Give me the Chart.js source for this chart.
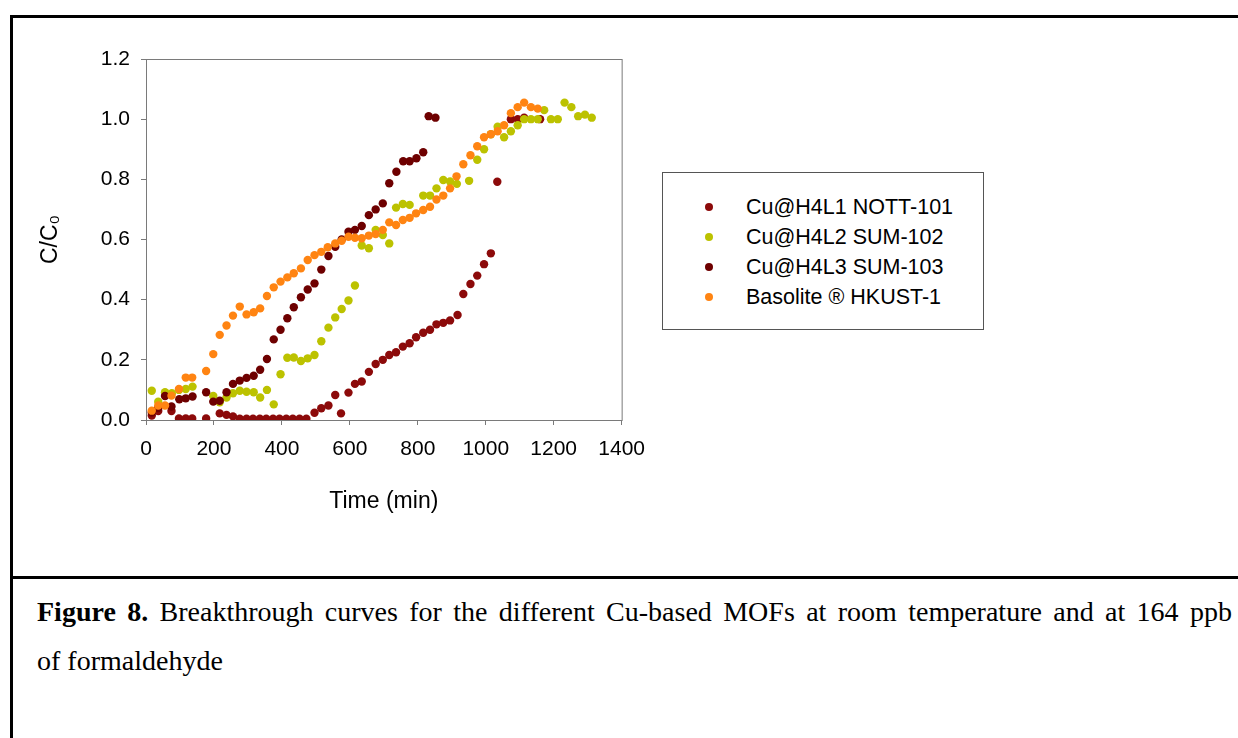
<!DOCTYPE html>
<html>
<head>
<meta charset="utf-8">
<script src="https://cdn.jsdelivr.net/npm/chart.js@4.4.0/dist/chart.umd.min.js"></script>
<style>
  body { margin: 0; background: #fff; width: 1238px; height: 738px; overflow: hidden; position: relative; font-family: "Liberation Sans", Arial, sans-serif; }
  #frame { position: absolute; left: 10px; top: 15px; width: 1300px; height: 800px; border-left: 3px solid #000; border-top: 3px solid #000; }
  #sep { position: absolute; left: 10px; top: 576px; width: 1300px; height: 3px; background: #000; }
  #chartBox { position: absolute; left: 20px; top: 30px; width: 637px; height: 510px; }
  #legend { position: absolute; left: 662px; top: 172px; width: 322px; height: 158px; border: 1px solid #555; box-sizing: border-box; }
  .row { position: absolute; left: 0; height: 30px; line-height: 30px; font-size: 21.5px; color: #000; white-space: nowrap; }
  .dot { position: absolute; left: 42px; top: 11px; width: 8px; height: 8px; border-radius: 50%; }
  .lbl { position: absolute; left: 83px; top: 0; }
  .caption { position: absolute; left: 37px; width: 1195px; font-family: "Liberation Serif", "Times New Roman", serif; font-size: 28px; line-height: 34px; color: #000; }
  #cap1 { top: 595px; text-align: justify; text-align-last: justify; }
  #cap2 { top: 644px; }
</style>
</head>
<body>
<div id="frame"></div>
<div id="sep"></div>
<div id="chartBox"><canvas id="chartBreak"></canvas></div>
<div id="legend"></div>
<div class="caption" id="cap1"><b>Figure 8.</b> Breakthrough curves for the different Cu-based MOFs at room temperature and at 164 ppb</div>
<div class="caption" id="cap2">of formaldehyde</div>

<script>
// axis ticks
const xTicks = [0, 200, 400, 600, 800, 1000, 1200, 1400];
const yTicks = [0.0, 0.2, 0.4, 0.6, 0.8, 1.0, 1.2];

const seriesNames = ["Cu@H4L1 NOTT-101", "Cu@H4L2 SUM-102", "Cu@H4L3 SUM-103", "Basolite \u00AE HKUST-1"];
const seriesColors = ["#8c0a0a", "#bcc200", "#6e0000", "#ff8412"];

// Cu@H4L1 NOTT-101
const nott101Time = [17, 36, 75, 97, 117, 136, 177, 217, 237, 256, 276, 296, 315, 335, 354, 374, 393, 413, 432, 452, 472,
  496, 516, 537, 557, 574, 596, 615, 635, 656, 676, 697, 716, 736, 756, 776, 795, 816, 836, 855, 875, 895, 917,
  934, 955, 975, 995, 1015, 1034, 1074, 1094, 1113, 1160];
const nott101Value = [0.015, 0.03, 0.03, 0.005, 0.005, 0.005, 0.005, 0.022, 0.017, 0.012, 0.004, 0.004, 0.004, 0.004, 0.004, 0.004, 0.004, 0.004, 0.004, 0.004, 0.004,
  0.024, 0.039, 0.048, 0.083, 0.022, 0.091, 0.12, 0.128, 0.16, 0.186, 0.2, 0.216, 0.225, 0.244, 0.255, 0.275, 0.29, 0.3, 0.318, 0.323, 0.331, 0.349,
  0.419, 0.452, 0.48, 0.518, 0.554, 0.792, 1.0, 1.0, 1.005, 1.0];

// Cu@H4L2 SUM-102
const sum102Time = [17, 36, 56, 76, 97, 117, 137, 198, 217, 237, 256, 276, 296, 317, 336, 356, 376, 396, 416, 435, 456, 476, 496,
  516, 537, 557, 576, 596, 615, 635, 656, 676, 697, 716, 736, 756, 776, 816, 836, 855, 875, 895, 915, 951,
  975, 995, 1015, 1035, 1054, 1074, 1094, 1113, 1133, 1153, 1172, 1192, 1212, 1232, 1252, 1272, 1292, 1312];
const sum102Value = [0.097, 0.061, 0.092, 0.089, 0.1, 0.103, 0.111, 0.08, 0.059, 0.075, 0.089, 0.097, 0.094, 0.092, 0.075, 0.1, 0.052, 0.152, 0.207, 0.208, 0.196, 0.205, 0.216,
  0.262, 0.307, 0.341, 0.369, 0.397, 0.447, 0.58, 0.571, 0.632, 0.615, 0.587, 0.706, 0.718, 0.715, 0.746, 0.746, 0.77, 0.798, 0.793, 0.785, 0.795,
  0.865, 0.9, 0.95, 0.975, 0.94, 0.96, 0.98, 1.0, 1.0, 1.0, 1.03, 1.0, 1.0, 1.055, 1.04, 1.01, 1.015, 1.005];

// Cu@H4L3 SUM-103
const sum103Time = [17, 36, 56, 75, 98, 117, 137, 177, 198, 217, 237, 256, 276, 296, 317, 336, 356, 376, 396, 416, 435, 456,
  476, 496, 516, 537, 557, 576, 596, 615, 635, 656, 676, 697, 716, 737, 757, 776, 796, 816, 832, 852];
const sum103Value = [0.025, 0.04, 0.08, 0.045, 0.069, 0.072, 0.078, 0.092, 0.061, 0.064, 0.092, 0.12, 0.131, 0.14, 0.147, 0.167, 0.203, 0.268, 0.3, 0.338, 0.375, 0.408,
  0.434, 0.454, 0.5, 0.545, 0.576, 0.6, 0.626, 0.632, 0.645, 0.681, 0.7, 0.72, 0.787, 0.825, 0.86, 0.86, 0.87, 0.89, 1.01, 1.005];

// Basolite HKUST-1
const hkustTime = [17, 36, 56, 75, 97, 117, 136, 177, 198, 217, 237, 256, 276, 296, 317, 336, 356, 376, 396, 416, 435, 456,
  476, 496, 516, 535, 557, 576, 596, 615, 635, 656, 676, 697, 716, 736, 756, 776, 795, 816, 836, 855, 875,
  895, 914, 934, 955, 975, 995, 1015, 1035, 1054, 1074, 1094, 1113, 1133, 1153];
const hkustValue = [0.031, 0.048, 0.048, 0.081, 0.103, 0.141, 0.141, 0.163, 0.219, 0.283, 0.314, 0.347, 0.377, 0.351, 0.358, 0.371, 0.412, 0.441, 0.46, 0.474, 0.488, 0.504,
  0.532, 0.548, 0.559, 0.574, 0.587, 0.596, 0.609, 0.606, 0.604, 0.613, 0.618, 0.632, 0.657, 0.648, 0.665, 0.672, 0.687, 0.698, 0.709, 0.733, 0.746,
  0.77, 0.81, 0.85, 0.88, 0.91, 0.94, 0.95, 0.96, 0.98, 1.02, 1.04, 1.055, 1.04, 1.035];

function toPoints(xs, ys) {
  return xs.map((x, i) => ({ x: x, y: ys[i] }));
}

const allSeries = [
  toPoints(nott101Time, nott101Value),
  toPoints(sum102Time, sum102Value),
  toPoints(sum103Time, sum103Value),
  toPoints(hkustTime, hkustValue),
];

// legend as plain html
const legendBox = document.getElementById("legend");
seriesNames.forEach((name, i) => {
  const row = document.createElement("div");
  row.className = "row";
  row.style.top = (19 + i * 30) + "px";
  row.innerHTML = '<span class="dot" style="background:' + seriesColors[i] + '"></span><span class="lbl">' + name + "</span>";
  legendBox.appendChild(row);
});

// box round the plot area
const plotFrame = {
  id: "plotFrame",
  beforeDatasetsDraw(chart) {
    const a = chart.chartArea;
    const ctx = chart.ctx;
    ctx.save();
    ctx.strokeStyle = "#7a7a7a";
    ctx.lineWidth = 1;
    ctx.strokeRect(a.left + 0.5, a.top + 0.5, a.right - a.left, a.bottom - a.top);
    ctx.restore();
  },
};

const datasets = allSeries.map((pts, i) => ({
  label: seriesNames[i],
  data: pts,
  backgroundColor: seriesColors[i],
  borderWidth: 0,
  pointRadius: 4.2,
  pointHoverRadius: 4.2,
  showLine: false,
  order: 3 - i,
}));

const tickFont = { family: "'Liberation Sans', Arial, sans-serif", size: 21 };
const titleFont = { family: "'Liberation Sans', Arial, sans-serif", size: 23 };

new Chart(document.getElementById("chartBreak").getContext("2d"), {
  type: "scatter",
  data: { datasets: datasets },
  options: {
    responsive: true,
    maintainAspectRatio: false,
    animation: false,
    layout: { padding: { left: 0, top: 29, right: 30, bottom: 0 } },
    plugins: { legend: { display: false }, tooltip: { enabled: false } },
    scales: {
      x: {
        type: "linear",
        min: xTicks[0],
        max: xTicks[xTicks.length - 1],
        afterBuildTicks: (scale) => { scale.ticks = xTicks.map((v) => ({ value: v })); },
        afterFit: (scale) => { scale.height = 120; },
        ticks: { color: "#000", font: tickFont, padding: 12, maxRotation: 0, callback: (v) => String(v) },
        grid: { drawOnChartArea: false, tickLength: 5, color: "#7a7a7a" },
        border: { color: "#7a7a7a" },
        title: { display: true, text: "Time (min)", color: "#000", font: titleFont, padding: { bottom: 25 } },
      },
      y: {
        min: yTicks[0],
        max: yTicks[yTicks.length - 1],
        afterBuildTicks: (scale) => { scale.ticks = yTicks.map((v) => ({ value: v })); },
        afterFit: (scale) => { scale.width = 126; },
        ticks: { color: "#000", font: tickFont, padding: 11, callback: (v) => Number(v).toFixed(1) },
        grid: { drawOnChartArea: false, tickLength: 5, color: "#7a7a7a" },
        border: { color: "#7a7a7a" },
        title: { display: true, text: "C/C\u2080", color: "#000", font: titleFont, padding: { top: 17 } },
      },
    },
  },
  plugins: [plotFrame],
});
</script>
</body>
</html>
